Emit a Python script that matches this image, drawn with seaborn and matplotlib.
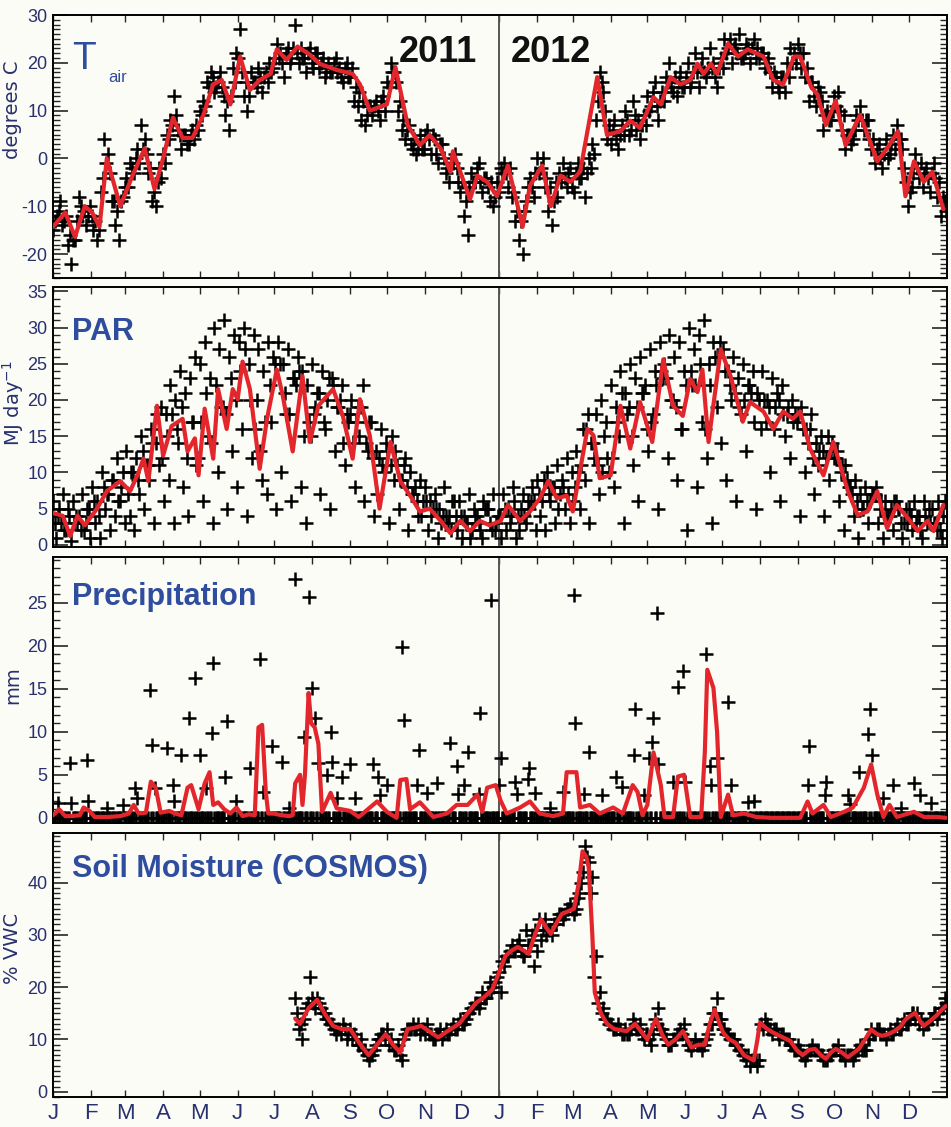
import numpy as np
import pandas as pd
import matplotlib
matplotlib.use("Agg")
import matplotlib.pyplot as plt
import seaborn as sns
from matplotlib.ticker import MultipleLocator

sns.set_theme(style="ticks")
plt.rcParams["font.family"] = ["Liberation Sans", "DejaVu Sans"]

# ---------------- axis categories ----------------
month_starts = [0, 31, 59, 90, 120, 151, 181, 212, 243, 273, 304, 334,
                365, 396, 425, 456, 486, 517, 547, 578, 609, 639, 670, 700]
month_labels = list("JFMAMJJASOND") * 2

# ---------------- Air temperature ----------------
tair_line_day = [0, 10, 18, 26, 32, 38, 44, 55, 65, 75, 83, 90, 98, 106, 114, 123, 131, 138, 145, 153,
                 161, 169, 178, 183, 191, 200, 210, 218, 232, 245, 251, 259, 273, 280, 290, 300, 308,
                 317, 325, 327, 341, 347, 355, 363, 372, 384, 390, 400, 407, 415, 423, 431, 437, 445,
                 453, 464, 472, 480, 491, 497, 505, 513, 521, 527, 532, 538, 543, 552, 560, 568, 576,
                 581, 589, 597, 606, 611, 620, 625, 632, 640, 648, 660, 674, 682, 691, 697, 704, 712,
                 719, 728]
tair_line_val = [-14.3, -11.3, -16.4, -10, -11.3, -14.3, 0, -10, -3.6, 2.1, -6.4, 0, 8.5, 4.3, 4.3, 9.1,
                 15.5, 16.4, 11.3, 21.3, 14.3, 16.4, 17.7, 22.8, 20.6, 23.4, 21.7, 19.8, 18.5, 17.7, 15.5,
                 10, 11.3, 19.1, 7, 2.8, 4.9, 2.1, -2.8, 1.5, -8.5, -3.6, -4.9, -7.9, -1.5, -14.3, -5.7,
                 -1.5, -10, -3.6, -4.9, -2.8, 5.7, 17, 4.9, 5.7, 7.9, 6.4, 12.8, 11.3, 17, 15.5, 16.4,
                 19.8, 17.7, 19.8, 17.7, 24, 21.3, 22.8, 21.9, 21.3, 16.4, 15.5, 21.3, 21.3, 14.9, 13.4,
                 7, 12.1, 2.8, 9.1, -0.6, 2.1, 5.7, -7.9, -0.6, -4.9, -2.8, -10.6]
# daily points, sampled every 3 days (two interleaved sets)
tair_pts_a = [-15, -12, -9, -13, -18, -22, -17, -8, -12, -14,
              -10, -15, -17, -7, 4, 1, -9, -14, -17, -8,
              -4, -1, -3, 2, 7, 4, -3, -9, -10, -2,
              1, 5, 8, 13, 6, 2, 5, 3, 6, 7,
              10, 12, 16, 18, 14, 16, 15, 9, 6, 19,
              22, 27, 13, 10, 18, 16, 19, 14, 18, 20,
              19, 24, 22, 17, 23, 21, 28, 20, 21, 18,
              23, 19, 22, 20, 17, 20, 18, 21, 19, 16,
              20, 17, 12, 11, 8, 7, 11, 9, 12, 8,
              13, 16, 20, 18, 10, 6, 4, 7, 2, 1,
              5, 2, 6, 1, 4, -1, 3, -3, -5, -1,
              -2, -7, -12, -16, -3, -5, -1, -7, -4, -9,
              -10, -5, -2, -1, -6, -8, -13, -17, -20, -9,
              -4, -8, 0, -2, -6, -11, -14, -5, -3, -1,
              -6, -2, -7, -1, -4, -8, 0, 3, 8, 18,
              14, 4, 3, 8, 2, 7, 10, 5, 12, 6,
              4, 9, 13, 11, 16, 8, 14, 17, 20, 14,
              13, 18, 15, 20, 16, 22, 15, 21, 17, 23,
              20, 15, 21, 25, 23, 20, 24, 26, 21, 24,
              20, 25, 23, 22, 19, 21, 15, 17, 14, 17,
              20, 23, 22, 24, 19, 17, 12, 16, 11, 14,
              6, 10, 8, 13, 14, 6, 2, 5, 4, 9,
              11, 6, 8, 2, -1, 3, -2, 4, 1, 5,
              7, 4, -2, -10, -6, 1, -4, -6, -2, -7,
              -1, -8, -12, -9]
tair_pts_b = [-13, -11, -14, -12, -16, -17, -13, -10, -11, -12,
              -12, -13, -15, -4, -1, -3, -9, -11, -9, -6,
              -6, -2, 0, -1, 2, 1, -2, -7, -5, -4,
              -1, 4, 7, 9, 5, 5, 3, 5, 4, 6,
              9, 11, 15, 17, 15, 18, 13, 12, 13, 16,
              21, 18, 16, 13, 16, 15, 17, 17, 16, 18,
              21, 21, 20, 22, 20, 23, 22, 23, 21, 22,
              20, 22, 19, 21, 18, 18, 20, 18, 17, 19,
              17, 19, 15, 14, 12, 9, 11, 11, 10, 12,
              10, 15, 18, 16, 12, 8, 6, 3, 4, 2,
              2, 5, 4, 5, 1, 3, 0, -2, -1, 1,
              -5, -5, -9, -6, -5, -2, -5, -4, -6, -5,
              -8, -7, -3, -3, -2, -7, -11, -13, -11, -6,
              -6, -3, -3, 0, -4, -6, -9, -8, -5, -4,
              -3, -6, -3, -4, -2, -3, -2, 1, 12, 16,
              10, 7, 6, 4, 5, 5, 8, 6, 9, 8,
              7, 7, 10, 14, 11, 12, 12, 16, 15, 17,
              16, 15, 17, 15, 18, 18, 19, 18, 19, 19,
              17, 19, 19, 22, 25, 23, 22, 21, 22, 23,
              23, 21, 21, 22, 20, 18, 18, 15, 17, 14,
              17, 20, 20, 22, 22, 19, 16, 13, 15, 12,
              9, 8, 10, 11, 10, 9, 5, 3, 6, 8,
              8, 8, 4, 4, 2, 0, 1, 0, 3, 2,
              4, 2, -5, -7, -3, -2, -1, -3, -4, -3,
              -4, -5, -8, -11]

# ---------------- PAR ----------------
par_line_day = [0, 8, 14, 20, 26, 36, 44, 55, 63, 69, 74, 78, 85, 90, 97, 106, 110, 116, 119, 124,
                131, 135, 142, 147, 151, 155, 161, 169, 175, 183, 188, 196, 204, 210, 217, 229, 237,
                245, 251, 259, 267, 276, 284, 292, 300, 308, 317, 325, 333, 341, 349, 357, 366, 372,
                382, 390, 398, 405, 412, 420, 425, 437, 442, 447, 456, 464, 472, 480, 490, 499, 507,
                515, 521, 527, 531, 536, 546, 554, 564, 570, 581, 589, 597, 605, 611, 619, 630, 638,
                650, 658, 666, 674, 682, 690, 699, 707, 715, 720, 728]
par_line_val = [4.4, 4, 1.2, 4, 2.7, 5, 7.4, 8.8, 7.4, 9.6, 11.9, 8.8, 19.2, 12.3, 16.4, 17.4, 12.9,
                14.7, 9.6, 18.8, 11.9, 21.5, 16, 21.5, 20.1, 25.3, 21.5, 10.5, 17.4, 24.2, 20.5, 12.9,
                23.3, 14.2, 19.2, 21.5, 17.8, 11.9, 20.1, 15.1, 5, 14.2, 8.8, 6.8, 4.6, 5, 3.3, 1.6,
                3.3, 1.9, 3.3, 2.7, 3.3, 5.5, 3.3, 4.6, 6.4, 8.8, 6.4, 6.8, 4.6, 16, 15.1, 9.2, 9.6,
                19.2, 13.3, 19.7, 14.2, 25.6, 19.2, 17.8, 22.9, 21.1, 24.2, 14.2, 27, 23.3, 17, 19.7,
                18.4, 16, 18.4, 17.4, 18.4, 13.3, 9.6, 14.2, 7.4, 4.1, 4.6, 7.4, 2.3, 5.5, 3.7, 1.9,
                3.3, 1.9, 5.5]
# daily points sampled every 4 days: clear days, typical days, cloudy days
par_pts_hi = [6, 4, 7, 5, 6, 3, 7, 5, 8, 6, 10, 7, 9, 12, 8, 13, 10, 12, 15, 11, 16, 14, 19,
              18, 22, 20, 24, 21, 23, 26, 25, 28, 23, 30, 27, 31, 26, 29, 28, 30, 25, 29, 27, 24, 28, 26,
              28, 25, 27, 23, 26, 24, 22, 25, 21, 24, 20, 23, 19, 22, 18, 20, 17, 19, 14, 17, 13, 16,
              14, 11, 13, 9, 12, 10, 8, 9, 8, 6, 7, 5, 8, 4, 6, 6, 4, 7, 5, 3, 6, 5, 7, 4,
              7, 5, 8, 4, 7, 6, 8, 9, 6, 10, 8, 11, 9, 12, 10, 13, 11, 16, 14, 18, 20, 17,
              22, 19, 24, 21, 25, 23, 26, 22, 27, 24, 28, 25, 29, 26, 28, 24, 30, 27, 29, 31, 25, 28, 26,
              27, 24, 26, 23, 25, 22, 24, 21, 24, 20, 23, 21, 22, 18, 20, 17, 19, 16, 18, 14, 15, 12, 13,
              12, 10, 11, 8, 9, 7, 8, 6, 7, 5, 6, 4, 6, 5, 3, 5, 6, 4, 6, 5, 3, 6, 4]
par_pts_mid = [3, 5, 2, 4, 3, 4, 2, 5, 6, 4, 8, 7, 9, 6, 10, 7, 10, 9, 13, 11, 14, 18, 12,
               15, 18, 16, 19, 12, 17, 11, 17, 21, 14, 22, 19, 18, 23, 20, 24, 27, 20, 16, 13, 17, 22, 25,
               25, 21, 18, 23, 24, 15, 17, 18, 21, 17, 23, 22, 19, 14, 17, 14, 19, 22, 13, 12, 7, 11,
               13, 15, 11, 9, 8, 7, 6, 4, 6, 4, 5, 3, 4, 2, 4, 4, 3, 1, 4, 2, 5, 3, 2, 4,
               5, 3, 6, 2, 4, 5, 6, 7, 9, 7, 8, 5, 8, 7, 6, 10, 16, 18, 14, 11, 10, 12,
               12, 17, 21, 18, 15, 19, 21, 16, 17, 22, 24, 23, 20, 19, 16, 22, 24, 22, 25, 16, 22, 26, 28,
               24, 22, 21, 19, 20, 22, 17, 20, 20, 19, 16, 20, 18, 19, 17, 18, 16, 14, 12, 11, 13, 15, 14,
               13, 11, 9, 7, 6, 5, 6, 7, 8, 6, 4, 5, 6, 3, 5, 4, 3, 2, 4, 3, 3, 2, 6]
par_pts_lo = [1, 3, 2, 0.5, 4, 2, 3, 1, 3, 1, 5, 2, 4, 6, 3, 4, 2, 7, 5, 9, 3, 11, 6,
              9, 3, 14, 8, 4, 17, 12, 6, 15, 3, 10, 19, 5, 13, 8, 16, 4, 12, 20, 9, 7, 17, 5,
              10, 18, 6, 22, 8, 3, 15, 19, 7, 16, 5, 13, 20, 11, 18, 8, 15, 6, 17, 4, 12, 10,
              3, 9, 5, 11, 2, 7, 4, 6, 2, 5, 1, 4, 3, 6, 2, 1, 3, 2, 4, 1, 5, 2, 3, 1,
              2, 4, 1, 5, 3, 6, 2, 4, 2, 6, 3, 7, 5, 3, 8, 5, 9, 3, 12, 7, 15, 10,
              8, 15, 3, 19, 11, 6, 21, 13, 18, 5, 23, 12, 20, 9, 16, 2, 22, 8, 17, 12, 3, 19, 14,
              9, 20, 6, 18, 13, 21, 5, 16, 17, 10, 19, 6, 15, 12, 18, 4, 10, 16, 7, 13, 4, 9, 12,
              6, 2, 8, 4, 1, 5, 3, 7, 3, 1, 4, 2, 5, 1, 3, 2, 4, 1, 3, 5, 2, 1, 4]

# ---------------- Precipitation ----------------
prec_line_day = [0, 5, 10, 15, 22, 25, 30, 34, 45, 55, 62, 66, 70, 76, 80, 84, 88, 95, 100, 105, 110,
                 113, 116, 119, 124, 128, 131, 135, 140, 145, 150, 155, 160, 165, 168, 171, 174, 176,
                 180, 187, 193, 196, 198, 202, 204, 206, 209, 211, 214, 217, 220, 227, 232, 243, 250,
                 265, 273, 281, 284, 289, 292, 300, 311, 322, 330, 339, 347, 351, 355, 362, 366, 371,
                 382, 390, 398, 409, 417, 420, 428, 431, 439, 447, 458, 466, 474, 478, 482, 486, 491,
                 497, 500, 507, 511, 516, 521, 530, 533, 535, 540, 543, 546, 552, 556, 565, 575, 587,
                 611, 617, 621, 630, 636, 647, 654, 663, 669, 674, 679, 684, 690, 704, 712, 723, 730]
prec_line_val = [0.3, 1.0, 0.2, 0.2, 0.3, 1.2, 0.8, 0.1, 0.1, 0.2, 0.5, 1.5, 0.5, 0.6, 4.2, 3.5, 0.6,
                 0.8, 0.5, 0.3, 3.5, 3.8, 2.4, 1, 4, 5.3, 1.5, 1.8, 1, 0.5, 1.2, 0.2, 0.4, 0.3, 10.5,
                 10.8, 3, 0.5, 0.5, 0.3, 0.2, 0.3, 4, 5, 1.5, 5, 14.5, 11, 10.5, 8.6, 0.7, 2.9, 1.1,
                 0.8, 0.1, 1.9, 0.7, 0, 4.4, 4.5, 1.0, 1.8, 0.1, 0.5, 1.5, 1.5, 2.7, 0.7, 3.5, 3.8, 2,
                 0.5, 1.2, 1.9, 0.5, 0.2, 0.5, 5.3, 5.3, 1.2, 1.5, 0.5, 1.2, 0.5, 3.8, 3, 0.3, 1.5,
                 7.6, 3.8, 0.1, 0.1, 4.8, 5, 0.1, 0.1, 7.7, 17.2, 15.1, 10, 0.1, 2.7, 0.3, 0.5, 0.1,
                 0, 0, 1.9, 0.5, 1.5, 0.1, 0.7, 1.2, 3.5, 6.2, 2.7, 0.1, 1.5, 0.1, 0.7, 0.1, 0.1, 0]
# rainy days (all other days are 0 mm)
rain_day = [4, 14, 15, 28, 29, 44, 57, 67, 69, 79, 81, 83, 93, 98, 99, 105, 111, 116, 120, 125, 130,
            131, 141, 142, 150, 161, 169, 172, 179, 187, 193, 198, 205, 209, 212, 214, 217, 224, 227,
            228, 232, 236, 243, 247, 262, 266, 267, 273, 285, 287, 298, 299, 306, 314, 325, 330, 331,
            336, 339, 348, 349, 358, 365, 366, 378, 379, 388, 389, 394, 406, 417, 426, 427, 434, 438,
            449, 460, 465, 475, 476, 483, 487, 490, 491, 494, 495, 507, 511, 515, 517, 534, 537, 538,
            543, 552, 554, 568, 573, 617, 618, 631, 632, 650, 652, 659, 666, 668, 670, 679, 687, 693,
            704, 709, 718]
rain_mm = [1.7, 6.4, 1.7, 6.7, 1.9, 1.2, 1.5, 3.5, 2.3, 14.9, 8.5, 3.5, 8.1, 3.8, 2, 7.3, 11.6, 16.3,
           7.3, 3.5, 9.9, 18, 4.7, 11.2, 1.9, 5.8, 18.4, 3, 8.3, 6.5, 1.2, 27.7, 9.4, 25.7, 15.1, 11.6,
           6.4, 5, 10, 6.5, 2.3, 4.8, 6.2, 2.3, 6.2, 4.7, 2.7, 3.8, 19.9, 11.4, 3.8, 7.9, 2.9, 4.1,
           8.7, 6, 2.8, 3.8, 7.6, 2.8, 12.2, 25.3, 3.8, 7, 4.2, 2.8, 4.5, 5.8, 2.9, 1.2, 3, 25.9, 11,
           2.8, 7.6, 2.7, 4.8, 3.6, 7.3, 12.6, 2.7, 7, 8.8, 11.6, 23.8, 6.3, 4.2, 15.2, 17, 4.2, 19,
           6, 3.8, 7, 13.5, 3.8, 1.8, 1.9, 3.8, 8.3, 2.7, 4.2, 2.7, 1.6, 5.3, 9.7, 12.7, 7.3, 2.3,
           3.8, 1.2, 4.1, 2.7, 1.7]

# ---------------- Soil moisture (COSMOS) ----------------
soil_line_day = [198, 202, 209, 216, 222, 229, 236, 243, 250, 258, 265, 272, 278, 284, 290, 295, 301,
                 308, 315, 322, 332, 339, 346, 352, 359, 365, 370, 375, 380, 385, 389, 394, 399, 403,
                 407, 411, 416, 421, 426, 430, 433, 436, 438, 441, 443, 448, 453, 459, 464, 469, 476,
                 481, 486, 493, 498, 503, 509, 515, 522, 528, 533, 537, 541, 545, 548, 553, 558, 565,
                 573, 576, 578, 584, 589, 596, 603, 608, 613, 618, 623, 628, 632, 636, 640, 645, 650,
                 655, 659, 664, 669, 674, 678, 683, 688, 693, 697, 701, 705, 709, 712, 717, 722, 726, 730]
soil_line_val = [14, 13, 16, 17.6, 15, 12.6, 12, 12, 9.5, 7, 9, 11, 9, 7.5, 12, 12.2, 12.6, 11.5, 10.4,
                 11.5, 13, 15, 17, 18, 19.5, 23, 26, 27, 27.7, 27, 26.4, 30, 33, 31.5, 30.2, 32, 34,
                 34.5, 35, 40, 46, 45, 43, 30, 19, 15, 13, 12, 11.8, 11.6, 13, 11.5, 10, 14, 11, 9, 10,
                 11.6, 8.5, 9, 9, 13, 15.7, 13, 11.3, 10, 9.4, 7, 6, 10, 13.2, 12, 11.3, 10.5, 9.7, 8,
                 7, 8, 8.2, 7, 6.3, 7.5, 8.2, 7.5, 6.6, 7.5, 8.2, 10, 11.9, 11, 10.7, 11, 11.6, 12.5,
                 13.8, 14.5, 15.1, 13.5, 12.6, 13.5, 14.5, 15.5, 16.4]
soil_pts_a = [18, 12, 10, 16, 22, 17, 18, 16, 15, 14,
              13, 11, 12, 13, 10, 12, 11, 9, 10, 8,
              6, 7, 9, 10, 11, 12, 10, 8, 9, 6,
              11, 12, 13, 12, 11, 12, 13, 11, 10, 11,
              10, 12, 11, 13, 12, 14, 13, 15, 16, 17,
              16, 19, 18, 21, 20, 22, 19, 24, 26, 28,
              27, 29, 26, 31, 28, 24, 27, 29, 33, 31,
              30, 32, 34, 33, 35, 36, 34, 37, 40, 47,
              44, 41, 26, 19, 16, 14, 13, 12, 13, 11,
              12, 11, 14, 12, 13, 10, 11, 9, 14, 16,
              12, 10, 9, 10, 11, 12, 13, 9, 8, 10,
              9, 8, 10, 13, 15, 18, 14, 12, 11, 10,
              9, 8, 7, 6, 5, 6, 5, 13, 14, 12,
              11, 12, 10, 11, 10, 9, 8, 9, 7, 6,
              8, 9, 8, 7, 6, 6, 7, 8, 9, 7,
              6, 7, 6, 8, 9, 8, 10, 12, 11, 12,
              11, 10, 12, 11, 13, 12, 14, 13, 15, 14,
              13, 12, 13, 14, 15, 14, 16, 18]
soil_pts_b = [15, 13, 14, 17, 18, 16, 17, 15, 14, 13,
              12, 12, 11, 12, 11, 10, 10, 9, 8, 7,
              7, 8, 10, 11, 10, 9, 9, 8, 7, 10,
              12, 12, 12, 13, 12, 11, 11, 10, 11, 12,
              11, 11, 12, 12, 13, 13, 14, 15, 16, 17,
              17, 18, 19, 19, 21, 23, 25, 26, 27, 27,
              28, 27, 26, 28, 30, 31, 33, 31, 30, 31,
              32, 33, 34, 34, 35, 35, 35, 38, 42, 45,
              38, 22, 17, 15, 14, 13, 12, 12, 12, 11,
              11, 12, 13, 12, 11, 11, 10, 11, 13, 12,
              11, 9, 9, 10, 11, 11, 10, 9, 9, 9,
              9, 9, 11, 13, 15, 14, 12, 11, 10, 10,
              9, 8, 7, 7, 6, 6, 6, 12, 13, 12,
              12, 11, 11, 10, 10, 9, 8, 8, 7, 7,
              8, 8, 8, 7, 6, 7, 8, 8, 7, 7,
              7, 7, 7, 8, 8, 8, 10, 11, 12, 11,
              11, 11, 11, 12, 12, 13, 13, 14, 15, 15,
              14, 13, 13, 14, 15, 15, 16, 17]

# ---------------- build tables ----------------
tair_a = pd.DataFrame({"day": np.arange(0, 730, 3), "v": tair_pts_a})
tair_b = pd.DataFrame({"day": np.arange(1.5, 731, 3), "v": tair_pts_b})
tair_l = pd.DataFrame({"day": tair_line_day, "v": tair_line_val})
par_days = np.arange(0, 729, 4)
par_a = pd.DataFrame({"day": par_days, "v": par_pts_hi})
par_m = pd.DataFrame({"day": par_days + 1.3, "v": par_pts_mid})
par_b = pd.DataFrame({"day": par_days + 2.6, "v": par_pts_lo})
par_l = pd.DataFrame({"day": par_line_day, "v": par_line_val})
prec_daily = np.zeros(731)
prec_daily[rain_day] = rain_mm
prec_p = pd.DataFrame({"day": np.arange(731), "v": prec_daily})
prec_l = pd.DataFrame({"day": prec_line_day, "v": prec_line_val})
soil_a = pd.DataFrame({"day": np.arange(198, 730, 3), "v": soil_pts_a})
soil_b = pd.DataFrame({"day": np.arange(199.5, 731, 3), "v": soil_pts_b})
soil_l = pd.DataFrame({"day": soil_line_day, "v": soil_line_val})

# ---------------- drawing ----------------
BG = "#fcfcf6"
NAVY = "#28306e"
TBLUE = "#2f4d9e"
RED = "#e3262c"

fig = plt.figure(figsize=(9.51, 11.27), dpi=100, facecolor=BG)
L, W = 53 / 951, 894 / 951
rects = [(15, 278), (287, 547), (557, 823), (833, 1097)]
axes = [fig.add_axes([L, 1 - b / 1127, W, (b - t) / 1127]) for t, b in rects]

cross_kw = dict(marker="+", color="black", s=105, linewidth=1.8, legend=False, zorder=2)
line_kw = dict(color=RED, linewidth=3.0, estimator=None, sort=False, legend=False, zorder=3)

ax = axes[0]
sns.scatterplot(data=tair_a, x="day", y="v", ax=ax, **cross_kw)
sns.scatterplot(data=tair_b, x="day", y="v", ax=ax, **cross_kw)
sns.lineplot(data=tair_l, x="day", y="v", ax=ax, **line_kw)

ax = axes[1]
sns.scatterplot(data=par_a, x="day", y="v", ax=ax, **cross_kw)
sns.scatterplot(data=par_m, x="day", y="v", ax=ax, **cross_kw)
sns.scatterplot(data=par_b, x="day", y="v", ax=ax, **cross_kw)
sns.lineplot(data=par_l, x="day", y="v", ax=ax, **line_kw)

ax = axes[2]
sns.scatterplot(data=prec_p, x="day", y="v", ax=ax, **cross_kw)
sns.lineplot(data=prec_l, x="day", y="v", ax=ax, **line_kw)

ax = axes[3]
sns.scatterplot(data=soil_a, x="day", y="v", ax=ax, **cross_kw)
sns.scatterplot(data=soil_b, x="day", y="v", ax=ax, **cross_kw)
sns.lineplot(data=soil_l, x="day", y="v", ax=ax, **line_kw)

ylims = [(-25, 30), (-0.3, 35.6), (-0.6, 30.3), (-1, 49.5)]
majors = [[-20, -10, 0, 10, 20, 30], [0, 5, 10, 15, 20, 25, 30, 35],
          [0, 5, 10, 15, 20, 25], [0, 10, 20, 30, 40]]

for i, ax in enumerate(axes):
    ax.set_facecolor(BG)
    ax.set_xlim(0, 731)
    ax.set_ylim(*ylims[i])
    ax.axvline(365, color="#555555", linewidth=1.4, zorder=1)
    ax.set_xticks(month_starts)
    if i == 3:
        ax.set_xticklabels(month_labels, fontsize=16, color=NAVY)
    else:
        ax.set_xticklabels([])
    ax.set_yticks(majors[i])
    ax.set_yticklabels([str(v) for v in majors[i]], fontsize=13, color=NAVY)
    ax.yaxis.set_minor_locator(MultipleLocator(1))
    ax.tick_params(axis="x", which="major", direction="in", top=True, bottom=True,
                   length=5, width=1, pad=4)
    ax.tick_params(axis="y", which="major", direction="in", left=True, right=True,
                   length=11, width=1.2, pad=4)
    ax.tick_params(axis="y", which="minor", direction="in", left=True, right=True,
                   length=5, width=1)
    for sp in ax.spines.values():
        sp.set_color("black")
        sp.set_linewidth(1.4)
    ax.set_xlabel("")
    ax.set_ylabel("")

# y-axis titles
ylabels = ["degrees C", "MJ day$^{-1}$", "mm", "% VWC"]
ylab_y = [110, 403, 685, 948]
for lab, yy in zip(ylabels, ylab_y):
    fig.text(13 / 951, 1 - yy / 1127, lab, rotation=90, ha="center", va="center",
             fontsize=14, color=NAVY, family="DejaVu Sans")

# panel titles
tx = 19 / 894
axes[0].text(tx, 0.90, "T", transform=axes[0].transAxes, fontsize=28, color=TBLUE,
             ha="left", va="top")
axes[0].text(tx + 0.041, 0.745, "air", transform=axes[0].transAxes, fontsize=12, color=TBLUE,
             ha="left", va="baseline")
axes[1].text(tx, 0.885, "PAR", transform=axes[1].transAxes, fontsize=22, color=TBLUE,
             fontweight="bold", ha="left", va="top")
axes[2].text(tx, 0.905, "Precipitation", transform=axes[2].transAxes, fontsize=22, color=TBLUE,
             fontweight="bold", ha="left", va="top")
axes[3].text(tx, 0.92, "Soil Moisture (COSMOS)", transform=axes[3].transAxes, fontsize=22,
             color=TBLUE, fontweight="bold", ha="left", va="top")

axes[0].text(347, 0.925, "2011", transform=axes[0].get_xaxis_transform(), fontsize=26,
             fontweight="bold", color="#111111", ha="right", va="top")
axes[0].text(374, 0.925, "2012", transform=axes[0].get_xaxis_transform(), fontsize=26,
             fontweight="bold", color="#111111", ha="left", va="top")

fig.savefig("out.png", dpi=100, facecolor=BG)
